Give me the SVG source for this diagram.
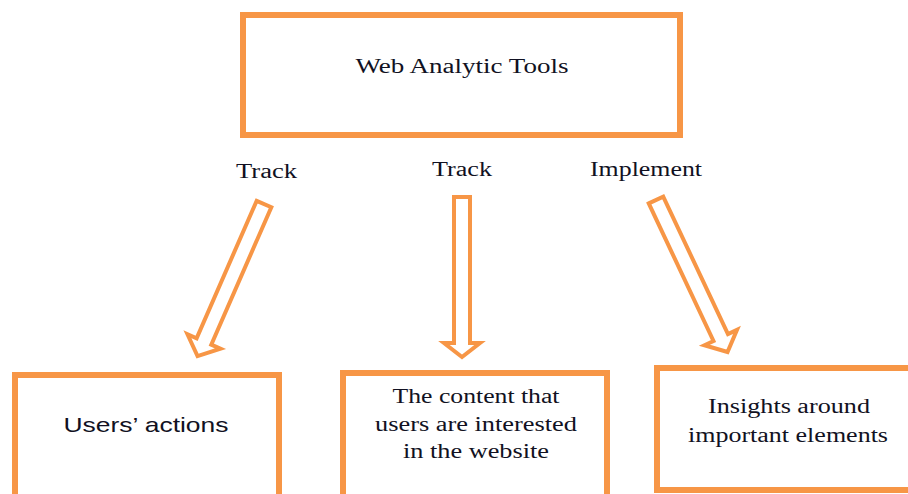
<svg xmlns="http://www.w3.org/2000/svg" width="908" height="494" viewBox="0 0 908 494">
  <style>
    .box { fill: #ffffff; stroke: #f79646; stroke-width: 6; }
    .arrow { fill: #ffffff; stroke: #f79646; stroke-width: 4; stroke-linejoin: miter; }
    .serif { font-family: "Liberation Serif", "Times New Roman", serif; fill: #111122; text-anchor: middle; }
    .sans { font-family: "Liberation Sans", Arial, sans-serif; fill: #111122; text-anchor: middle; }
  </style>
  <defs>
    <!-- hollow block arrow pointing down, tail centre at origin -->
    <polygon id="blockArrow" class="arrow" points="-8,0 8,0 8,-15 18,-15 0,0 -18,-15 -8,-15"/>
  </defs>
  <rect width="908" height="494" fill="#ffffff"/>

  <g id="connectors">
    <!-- left: Track -->
    <polygon class="arrow" transform="translate(264,204) rotate(23.6)" points="-8,0 8,0 8,150 18,150 0,166 -18,150 -8,150"/>
    <!-- middle: Track -->
    <polygon class="arrow" transform="translate(462,197)" points="-8,0 8,0 8,146 18,146 0,160 -18,146 -8,146"/>
    <!-- right: Implement -->
    <polygon class="arrow" transform="translate(656,200) rotate(-25.2)" points="-8,0 8,0 8,152 18,152 0,168 -18,152 -8,152"/>
    <text class="serif" x="266.5" y="178" font-size="20" textLength="61" lengthAdjust="spacingAndGlyphs">Track</text>
    <text class="serif" x="462" y="176" font-size="20" textLength="60" lengthAdjust="spacingAndGlyphs">Track</text>
    <text class="serif" x="646" y="176" font-size="20" textLength="112" lengthAdjust="spacingAndGlyphs">Implement</text>
  </g>

  <g id="web-analytic-tools">
    <rect class="box" x="243" y="15" width="437" height="120"/>
    <text class="serif" x="462" y="73" font-size="20" textLength="213" lengthAdjust="spacingAndGlyphs">Web Analytic Tools</text>
  </g>

  <g id="users-actions">
    <rect class="box" x="15" y="375" width="264" height="130"/>
    <text class="sans" x="146" y="432" font-size="21" textLength="165" lengthAdjust="spacingAndGlyphs">Users’ actions</text>
  </g>

  <g id="content-interest">
    <rect class="box" x="343" y="373" width="264" height="130"/>
    <text class="serif" x="476" y="403" font-size="20" textLength="167" lengthAdjust="spacingAndGlyphs">The content that</text>
    <text class="serif" x="476" y="431" font-size="20" textLength="202" lengthAdjust="spacingAndGlyphs">users are interested</text>
    <text class="serif" x="476" y="458" font-size="20" textLength="146" lengthAdjust="spacingAndGlyphs">in the website</text>
  </g>

  <g id="insights">
    <rect class="box" x="657" y="368" width="270" height="122"/>
    <text class="serif" x="789" y="413" font-size="20" textLength="162" lengthAdjust="spacingAndGlyphs">Insights around</text>
    <text class="serif" x="788" y="442" font-size="20" textLength="200" lengthAdjust="spacingAndGlyphs">important elements</text>
  </g>
</svg>
